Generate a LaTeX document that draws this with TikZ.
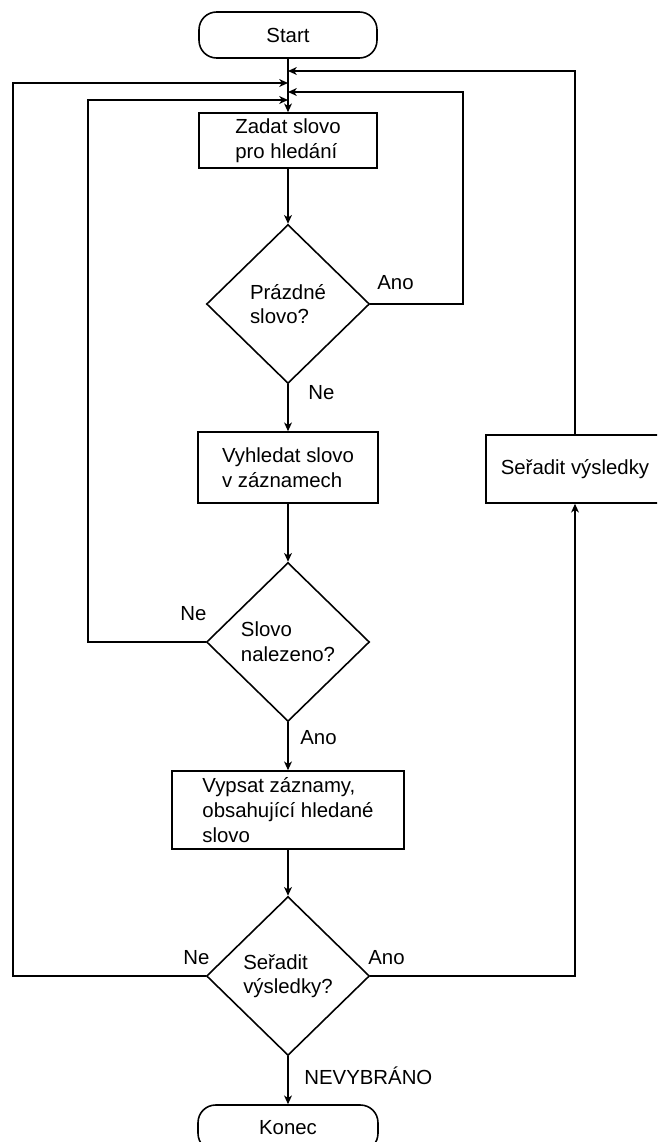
\documentclass[tikz,border=0pt]{standalone}
\usepackage{fontspec}
\setmainfont{Liberation Sans}
\usetikzlibrary{shapes.geometric,arrows.meta}

\tikzset{
  terminal/.style={draw,line width=0.9pt,rounded corners=10pt,minimum width=3.56cm,minimum height=0.92cm},
  box/.style={draw,line width=0.9pt,align=left,inner sep=0pt},
  decision/.style={draw,line width=0.9pt,diamond,align=left,inner sep=0pt,minimum width=3.26cm,minimum height=3.18cm},
  lbl/.style={anchor=west,inner sep=0pt},
  flow/.style={line width=0.7pt,-{Stealth[length=5pt,width=4.5pt,inset=1.5pt]}},
}

\begin{document}
\begin{tikzpicture}[x=0.02cm,y=-0.02cm,font=\fontsize{11.6}{14}\selectfont]
  \clip (0,0) rectangle (657,1142);

  % main column
  \node[terminal] (start) at (288,35) {Start};
  \node[box,minimum width=3.56cm,minimum height=1.1cm] (zadat) at (288,140.5) {Zadat slovo\\pro hledání};
  \node[decision] (empty) at (288,304) {Prázdné\\slovo?};
  \node[box,minimum width=3.6cm,minimum height=1.42cm] (search) at (288,467.5) {Vyhledat slovo\\v záznamech};
  \node[decision] (found) at (288,642) {Slovo\\nalezeno?};
  \node[box,minimum width=4.64cm,minimum height=1.56cm] (list) at (288,810) {Vypsat záznamy,\\obsahující hledané\\slovo};
  \node[decision] (sortq) at (288,976) {Seřadit\\výsledky?};
  \node[terminal,minimum width=3.6cm] (konec) at (288,1128) {Konec};
  \node[box,minimum width=3.56cm,minimum height=1.36cm] (sort) at (575,469) {Seřadit výsledky};

  % labels
  \node[lbl] (anoA) at (377,283) {Ano};
  \node[lbl] (neA) at (308,393) {Ne};
  \node[lbl] (neB) at (180,614) {Ne};
  \node[lbl] (anoB) at (300,738) {Ano};
  \node[lbl] (neC) at (183,958) {Ne};
  \node[lbl] (anoC) at (368,958) {Ano};
  \node[lbl] (nevyb) at (304,1076) {NEVYBRÁNO};

  % joins on the main line
  \coordinate (jR1) at (288,71);
  \coordinate (jL1) at (288,83);
  \coordinate (jR2) at (288,92);
  \coordinate (jL2) at (288,100);
  \coordinate (cR1) at (575,71);
  \coordinate (cL1) at (13,83);
  \coordinate (cR2) at (463,92);
  \coordinate (cL2) at (88,100);

  \draw[flow] (start.south) -- (zadat.north);
  \draw[flow] (zadat.south) -- (empty.north);
  \draw[flow] (empty.south) -- (search.north);
  \draw[flow] (search.south) -- (found.north);
  \draw[flow] (found.south) -- (list.north);
  \draw[flow] (list.south) -- (sortq.north);
  \draw[flow] (sortq.south) -- (konec.north);

  \draw[flow] (empty.east) -| (cR2) -- (jR2);
  \draw[flow] (found.west) -| (cL2) -- (jL2);
  \draw[flow] (sortq.west) -| (cL1) -- (jL1);
  \draw[flow] (sortq.east) -| (sort.south);
  \draw[flow] (sort.north) -- (cR1) -- (jR1);
\end{tikzpicture}
\end{document}
